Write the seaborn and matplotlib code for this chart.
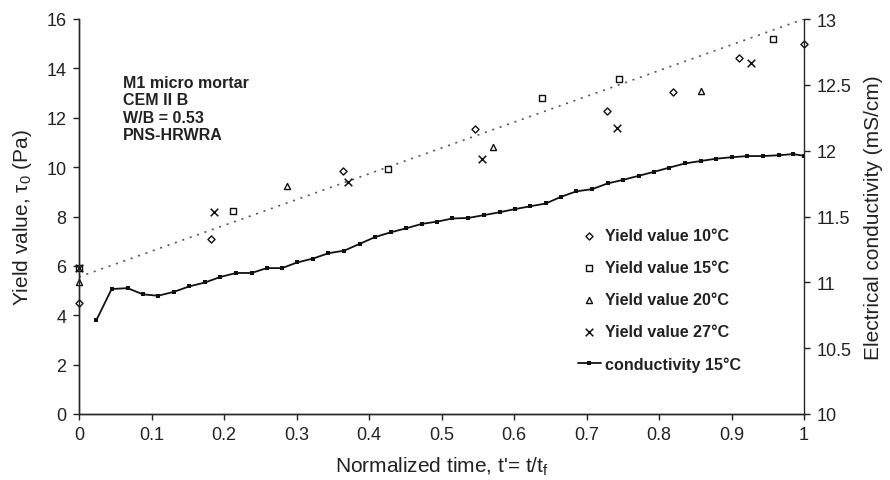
import numpy as np
import pandas as pd
import matplotlib
matplotlib.use("Agg")
import matplotlib.pyplot as plt
import seaborn as sns
from matplotlib.ticker import FuncFormatter

# ---------------- data ----------------
t_10 = [0.0, 0.182, 0.364, 0.546, 0.728, 0.819, 0.910, 1.0]
y_10 = [4.49, 7.09, 9.84, 11.54, 12.27, 13.04, 14.41, 15.0]

t_15 = [0.0, 0.212, 0.426, 0.639, 0.745, 0.957]
y_15 = [5.9, 8.22, 9.92, 12.8, 13.55, 15.2]

t_20 = [0.0, 0.287, 0.571, 0.858]
y_20 = [5.34, 9.23, 10.8, 13.1]

t_27 = [0.0, 0.186, 0.371, 0.556, 0.742, 0.927]
y_27 = [5.9, 8.17, 9.38, 10.32, 11.6, 14.2]

trend_t = [0.0, 1.0]
trend_y = [5.55, 16.0]

cond_t = [0.024, 0.045, 0.067, 0.088, 0.109, 0.131, 0.152, 0.174, 0.195, 0.217,
          0.238, 0.259, 0.280, 0.301, 0.323, 0.344, 0.366, 0.387, 0.408, 0.430,
          0.451, 0.473, 0.494, 0.515, 0.537, 0.559, 0.580, 0.601, 0.622, 0.644,
          0.665, 0.686, 0.708, 0.729, 0.751, 0.772, 0.793, 0.814, 0.836, 0.858,
          0.879, 0.900, 0.922, 0.943, 0.965, 0.985, 1.0]
cond_v = [10.713, 10.949, 10.956, 10.909, 10.898, 10.928, 10.969, 10.999, 11.041, 11.071,
          11.071, 11.108, 11.108, 11.151, 11.181, 11.221, 11.241, 11.292, 11.343, 11.380,
          11.410, 11.444, 11.461, 11.485, 11.489, 11.511, 11.532, 11.556, 11.577, 11.599,
          11.650, 11.691, 11.708, 11.751, 11.779, 11.809, 11.839, 11.871, 11.903, 11.922,
          11.939, 11.950, 11.959, 11.959, 11.965, 11.974, 11.961]

x_ticks = [0, 0.1, 0.2, 0.3, 0.4, 0.5, 0.6, 0.7, 0.8, 0.9, 1]
y_ticks = [0, 2, 4, 6, 8, 10, 12, 14, 16]
y2_ticks = [10, 10.5, 11, 11.5, 12, 12.5, 13]

annotation = "M1 micro mortar\nCEM II B\nW/B = 0.53\nPNS-HRWRA"

# ---------------- style ----------------
sns.set_theme(style="ticks")
plt.rcParams['font.family'] = ['Liberation Sans', 'DejaVu Sans']
plt.rcParams['mathtext.fontset'] = 'custom'
plt.rcParams['mathtext.rm'] = 'Liberation Sans'
plt.rcParams['mathtext.it'] = 'Liberation Sans:italic'
plt.rcParams['axes.linewidth'] = 1.0

TXT = "#222222"
fig = plt.figure(figsize=(8.9, 4.81), dpi=100)
ax = fig.add_axes([79/890, 1-415/481, (804-79)/890, (415-20)/481])
ax2 = ax.twinx()

trend = pd.DataFrame({"t": trend_t, "y": trend_y})
sns.lineplot(data=trend, x="t", y="y", ax=ax, color="#555555", linestyle=(0, (1.2, 3.5)),
             linewidth=1.2, legend=False)

series = [
    (t_10, y_10, "D", 13, "Yield value 10\u00b0C"),
    (t_15, y_15, "s", 19, "Yield value 15\u00b0C"),
    (t_20, y_20, "^", 19, "Yield value 20\u00b0C"),
    (t_27, y_27, "x", 30, "Yield value 27\u00b0C"),
]
for tt, yy, mk, s, lab in series:
    df = pd.DataFrame({"t": tt, "y": yy})
    if mk == "x":
        sns.scatterplot(data=df, x="t", y="y", ax=ax, marker=mk, s=s, color="#111111",
                        linewidth=1.1, label=lab, zorder=5, clip_on=False)
    else:
        sns.scatterplot(data=df, x="t", y="y", ax=ax, marker=mk, s=s, facecolor="white",
                        edgecolor="#111111", linewidth=1.0, label=lab, zorder=5, clip_on=False)

cdf = pd.DataFrame({"t": cond_t, "c": cond_v})
sns.lineplot(data=cdf, x="t", y="c", ax=ax2, color="#111111", linewidth=1.3,
             marker="s", markersize=2.2, markeredgewidth=0, label="conductivity 15\u00b0C")

# axes limits and ticks
ax.set_xlim(0, 1)
ax.set_ylim(0, 16)
ax2.set_ylim(10, 13)
ax.set_xticks(x_ticks)
ax.set_yticks(y_ticks)
ax2.set_yticks(y2_ticks)
ax.xaxis.set_major_formatter(FuncFormatter(lambda v, p: f"{v:g}"))
ax2.yaxis.set_major_formatter(FuncFormatter(lambda v, p: f"{v:g}"))

for a in (ax, ax2):
    a.tick_params(direction="out", length=4, width=1, labelsize=13, colors=TXT, pad=5)
    a.spines["top"].set_visible(False)
ax.spines["right"].set_visible(False)
ax2.spines["right"].set_visible(True)

ax.set_xlabel("Normalized time, t'= t/t$_\\mathrm{f}$", fontsize=15, color=TXT, labelpad=8)
ax.set_ylabel("Yield value, \u03c4$_0$ (Pa)", fontsize=15, color=TXT, labelpad=9)
ax2.set_ylabel("Electrical conductivity (mS/cm)", fontsize=15, color=TXT, labelpad=9)

fig.text(123/890, 1-76/481, annotation, fontsize=11.5, fontweight="bold", color=TXT,
         va="top", ha="left", linespacing=1.2)

# combined legend
h1, l1 = ax.get_legend_handles_labels()
h2, l2 = ax2.get_legend_handles_labels()
if ax.get_legend():
    ax.get_legend().remove()
if ax2.get_legend():
    ax2.get_legend().remove()
leg = ax2.legend(h1 + h2, l1 + l2, loc="center left",
                 bbox_to_anchor=(578/890, 1-301/481), bbox_transform=fig.transFigure,
                 frameon=False, borderpad=0, borderaxespad=0, handlelength=1.4,
                 handletextpad=0.3, labelspacing=1.05, prop={"weight": "bold", "size": 11.6})
for txt in leg.get_texts():
    txt.set_color(TXT)

fig.savefig("out.png", dpi=100)
